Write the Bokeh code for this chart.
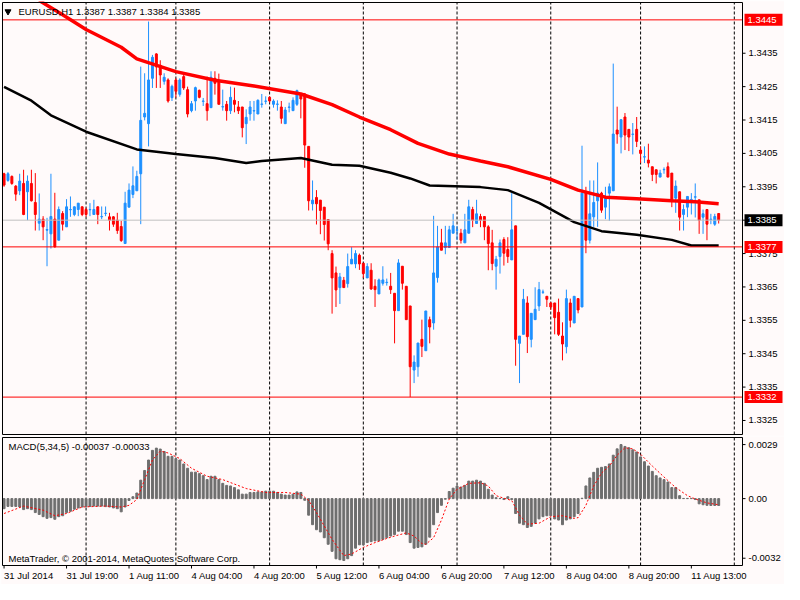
from bokeh.plotting import figure
from bokeh.models import ColumnDataSource, Range1d
from bokeh.core.properties import value
from bokeh.layouts import column
from bokeh.embed import file_html
from bokeh.resources import INLINE

# ---------------- data (EURUSD H1) ----------------
opens = [
1.33989,1.33969,1.33981,1.33952,1.33938,1.33960,1.33935,1.33960,1.33903,1.33841,
1.33853,1.33820,1.33809,1.33853,1.33790,1.33870,1.33830,1.33881,1.33867,1.33882,
1.33890,1.33882,1.33881,1.33867,1.33890,1.33860,1.33870,1.33860,1.33860,1.33850,
1.33831,1.33780,1.33889,1.33927,1.33938,1.33989,1.34159,1.34139,1.34275,1.34348,
1.34314,1.34266,1.34270,1.34217,1.34270,1.34227,1.34280,1.34241,1.34178,1.34207,
1.34239,1.34206,1.34199,1.34187,1.34275,1.34267,1.34189,1.34197,1.34178,1.34209,
1.34189,1.34189,1.34139,1.34168,1.34177,1.34168,1.34197,1.34206,1.34218,1.34197,
1.34197,1.34189,1.34139,1.34188,1.34178,1.34197,1.34228,1.34228,1.34071,1.33899,
1.33918,1.33910,1.33889,1.33852,1.33750,1.33692,1.33648,1.33670,1.33660,1.33719,
1.33719,1.33745,1.33721,1.33677,1.33700,1.33652,1.33629,1.33661,1.33663,1.33652,
1.33631,1.33579,1.33712,1.33652,1.33593,1.33401,1.33411,1.33493,1.33459,1.33552,
1.33542,1.33678,1.33782,1.33768,1.33768,1.33811,1.33820,1.33811,1.33782,1.33811,
1.33882,1.33840,1.33861,1.33861,1.33830,1.33782,1.33712,1.33741,1.33792,1.33762,
1.33731,1.33833,1.33481,1.33508,1.33602,1.33493,1.33552,1.33593,1.33634,1.33622,
1.33602,1.33602,1.33574,1.33503,1.33471,1.33602,1.33542,1.33615,1.33590,1.33935,
1.33790,1.33860,1.33908,1.33931,1.33889,1.33931,1.33938,1.34120,1.34099,1.34159,
1.34122,1.34107,1.34122,1.34060,1.34039,1.34030,1.34010,1.34001,1.33979,1.34001,
1.34010,1.33991,1.33916,1.33935,1.33867,1.33889,1.33911,1.33919,1.33911,1.33859,
1.33882,1.33852,1.33838,1.33870]
highs = [
1.33992,1.33994,1.33984,1.33955,1.33989,1.34001,1.33984,1.34001,1.33991,1.33930,
1.33862,1.33857,1.33989,1.33932,1.33891,1.33877,1.33913,1.33921,1.33891,1.33901,
1.33891,1.33887,1.33901,1.33911,1.33891,1.33891,1.33891,1.33872,1.33862,1.33872,
1.33848,1.33935,1.33960,1.34011,1.33998,1.34310,1.34290,1.34445,1.34345,1.34350,
1.34329,1.34290,1.34275,1.34256,1.34275,1.34275,1.34285,1.34250,1.34207,1.34250,
1.34241,1.34216,1.34280,1.34296,1.34296,1.34289,1.34241,1.34207,1.34250,1.34247,
1.34207,1.34189,1.34182,1.34207,1.34207,1.34212,1.34228,1.34221,1.34221,1.34212,
1.34209,1.34207,1.34189,1.34202,1.34218,1.34241,1.34230,1.34231,1.34071,1.33969,
1.33940,1.33910,1.33889,1.33852,1.33760,1.33711,1.33692,1.33680,1.33750,1.33769,
1.33760,1.33750,1.33721,1.33721,1.33721,1.33673,1.33675,1.33712,1.33675,1.33692,
1.33631,1.33733,1.33712,1.33652,1.33593,1.33445,1.33482,1.33552,1.33578,1.33561,
1.33863,1.33833,1.33824,1.33833,1.33833,1.33869,1.33833,1.33824,1.33869,1.33911,
1.33890,1.33911,1.33869,1.33861,1.33835,1.33821,1.33743,1.33792,1.33799,1.33799,
1.33931,1.33833,1.33503,1.33644,1.33622,1.33571,1.33649,1.33665,1.33642,1.33622,
1.33605,1.33602,1.33615,1.33544,1.33642,1.33615,1.33622,1.33615,1.34073,1.33950,
1.33969,1.33969,1.34023,1.33935,1.33950,1.33960,1.34319,1.34190,1.34151,1.34171,
1.34122,1.34141,1.34159,1.34071,1.34071,1.34079,1.34010,1.34001,1.34001,1.34008,
1.34023,1.33991,1.33969,1.33935,1.33897,1.33921,1.33931,1.33960,1.33911,1.33882,
1.33882,1.33869,1.33869,1.33870]
lows = [
1.33950,1.33965,1.33956,1.33908,1.33925,1.33865,1.33850,1.33906,1.33819,1.33819,
1.33790,1.33712,1.33765,1.33768,1.33790,1.33819,1.33830,1.33860,1.33862,1.33862,
1.33862,1.33860,1.33862,1.33867,1.33838,1.33853,1.33862,1.33819,1.33830,1.33809,
1.33785,1.33780,1.33889,1.33916,1.33938,1.33838,1.34149,1.34071,1.34246,1.34246,
1.34246,1.34256,1.34202,1.34207,1.34217,1.34220,1.34240,1.34158,1.34173,1.34178,
1.34215,1.34192,1.34148,1.34187,1.34226,1.34197,1.34178,1.34148,1.34168,1.34173,
1.34168,1.34098,1.34078,1.34148,1.34148,1.34168,1.34187,1.34197,1.34202,1.34187,
1.34178,1.34139,1.34139,1.34173,1.34178,1.34192,1.34155,1.34007,1.33879,1.33879,
1.33837,1.33808,1.33789,1.33760,1.33570,1.33590,1.33599,1.33648,1.33648,1.33719,
1.33706,1.33701,1.33677,1.33677,1.33641,1.33590,1.33629,1.33654,1.33654,1.33629,
1.33481,1.33579,1.33642,1.33552,1.33320,1.33362,1.33381,1.33440,1.33459,1.33481,
1.33522,1.33663,1.33760,1.33748,1.33768,1.33811,1.33790,1.33780,1.33782,1.33811,
1.33829,1.33840,1.33829,1.33790,1.33700,1.33700,1.33642,1.33690,1.33714,1.33722,
1.33731,1.33414,1.33362,1.33508,1.33452,1.33469,1.33552,1.33578,1.33629,1.33590,
1.33581,1.33508,1.33503,1.33430,1.33451,1.33529,1.33542,1.33571,1.33590,1.33751,
1.33780,1.33830,1.33830,1.33872,1.33853,1.33848,1.33938,1.34079,1.34050,1.34060,
1.34057,1.34047,1.34069,1.34021,1.34021,1.34008,1.33967,1.33960,1.33979,1.33989,
1.33979,1.33889,1.33872,1.33819,1.33819,1.33859,1.33867,1.33858,1.33809,1.33809,
1.33790,1.33838,1.33833,1.33840]
closes = [
1.33955,1.33989,1.33960,1.33928,1.33967,1.33867,1.33967,1.33908,1.33867,1.33853,
1.33830,1.33822,1.33861,1.33770,1.33882,1.33838,1.33890,1.33882,1.33890,1.33901,
1.33867,1.33867,1.33882,1.33882,1.33867,1.33861,1.33871,1.33850,1.33838,1.33819,
1.33789,1.33901,1.33940,1.33953,1.33981,1.34149,1.34170,1.34270,1.34338,1.34309,
1.34285,1.34278,1.34207,1.34251,1.34236,1.34270,1.34246,1.34168,1.34199,1.34247,
1.34218,1.34207,1.34178,1.34278,1.34260,1.34197,1.34190,1.34178,1.34218,1.34197,
1.34178,1.34127,1.34158,1.34189,1.34178,1.34209,1.34198,1.34207,1.34207,1.34207,
1.34198,1.34155,1.34180,1.34189,1.34209,1.34238,1.34213,1.34075,1.33908,1.33910,
1.33899,1.33879,1.33837,1.33779,1.33677,1.33641,1.33680,1.33648,1.33711,1.33733,
1.33750,1.33719,1.33690,1.33711,1.33644,1.33642,1.33671,1.33671,1.33664,1.33642,
1.33579,1.33722,1.33661,1.33552,1.33411,1.33425,1.33482,1.33472,1.33578,1.33530,
1.33692,1.33770,1.33760,1.33782,1.33821,1.33833,1.33821,1.33790,1.33821,1.33890,
1.33850,1.33869,1.33850,1.33830,1.33780,1.33720,1.33733,1.33782,1.33751,1.33741,
1.33821,1.33493,1.33503,1.33613,1.33501,1.33571,1.33583,1.33642,1.33635,1.33613,
1.33590,1.33558,1.33508,1.33479,1.33615,1.33550,1.33622,1.33581,1.33931,1.33790,
1.33869,1.33903,1.33931,1.33880,1.33921,1.33950,1.34108,1.34108,1.34151,1.34105,
1.34099,1.34108,1.34086,1.34050,1.34040,1.34021,1.33987,1.33987,1.33991,1.34002,
1.33979,1.33911,1.33952,1.33859,1.33882,1.33921,1.33912,1.33920,1.33850,1.33869,
1.33838,1.33853,1.33861,1.33850]

# moving averages read at selected bars
ma_red_bar = [9, 15, 21, 30, 34, 44, 54, 64, 76, 84, 91, 99, 106, 114, 122, 129, 140, 147, 154, 162, 171, 177, 183]
ma_red_val = [1.34508, 1.34465, 1.34421, 1.34368, 1.34333, 1.34295, 1.34269, 1.34252, 1.34228, 1.34196,
              1.34159, 1.34121, 1.34080, 1.34048, 1.34027, 1.34010, 1.33972, 1.33940, 1.33919, 1.33914,
              1.33908, 1.33905, 1.33899]
ma_black_bar = [0, 7, 12, 21, 34, 44, 54, 62, 66, 76, 84, 91, 99, 104, 109, 122, 129, 137, 146, 153, 162, 171, 176, 183]
ma_black_val = [1.34249, 1.34208, 1.34164, 1.34115, 1.34062, 1.34048, 1.34036, 1.34021, 1.34027, 1.34036,
                1.34016, 1.34013, 1.33992, 1.33975, 1.33954, 1.33949, 1.33940, 1.33902, 1.33844, 1.33817,
                1.33806, 1.33791, 1.33774, 1.33774]

# MACD(5,34,5)
macd_hist = [
-0.00054,-0.00042,-0.00042,-0.00042,-0.00045,-0.00059,-0.00054,-0.00059,-0.00075,-0.00085,
-0.00097,-0.00106,-0.00102,-0.00111,-0.00097,-0.00092,-0.00075,-0.00068,-0.00057,-0.00050,
-0.00045,-0.00043,-0.00042,-0.00040,-0.00040,-0.00040,-0.00043,-0.00045,-0.00050,-0.00054,
-0.00071,-0.00045,-0.00010,0.00010,0.00030,0.00099,0.00151,0.00207,0.00259,0.00271,
0.00266,0.00253,0.00227,0.00227,0.00215,0.00207,0.00186,0.00163,0.00142,0.00142,
0.00134,0.00123,0.00102,0.00120,0.00120,0.00102,0.00082,0.00071,0.00068,0.00059,
0.00047,0.00024,0.00024,0.00033,0.00033,0.00036,0.00036,0.00040,0.00040,0.00040,
0.00033,0.00024,0.00019,0.00019,0.00024,0.00036,0.00033,-0.00009,-0.00089,-0.00140,
-0.00167,-0.00179,-0.00210,-0.00245,-0.00283,-0.00323,-0.00328,-0.00332,-0.00323,-0.00306,
-0.00266,-0.00248,-0.00248,-0.00236,-0.00231,-0.00227,-0.00227,-0.00219,-0.00210,-0.00201,
-0.00193,-0.00175,-0.00175,-0.00193,-0.00236,-0.00266,-0.00262,-0.00259,-0.00245,-0.00207,
-0.00140,-0.00075,-0.00036,-0.00003,0.00038,0.00056,0.00068,0.00062,0.00071,0.00094,
0.00094,0.00099,0.00094,0.00082,0.00050,0.00019,0.00005,0.00001,-0.00005,0.00010,
-0.00005,-0.00080,-0.00132,-0.00140,-0.00155,-0.00149,-0.00132,-0.00109,-0.00097,-0.00092,
-0.00092,-0.00109,-0.00115,-0.00140,-0.00115,-0.00109,-0.00097,-0.00080,0.00002,0.00068,
0.00111,0.00141,0.00163,0.00168,0.00172,0.00186,0.00233,0.00267,0.00290,0.00280,
0.00273,0.00262,0.00250,0.00224,0.00198,0.00175,0.00146,0.00123,0.00111,0.00102,
0.00089,0.00059,0.00059,0.00016,0.00001,0.00001,0.00001,-0.00005,-0.00028,-0.00033,
-0.00036,-0.00037,-0.00037,-0.00037]
signal_bar = [0, 5, 10, 13, 16, 20, 26, 30, 32, 34, 36, 38, 40, 42, 45, 48, 52, 56, 62, 67, 72, 76, 78, 80,
              84, 87, 89, 92, 95, 98, 100, 103, 105, 107, 108, 110, 112, 114, 116, 119, 122, 124, 126, 128,
              130, 132, 134, 137, 140, 143, 146, 147, 149, 151, 153, 155, 157, 159, 161, 163, 166, 169, 172,
              175, 177, 180, 183]
signal_val = [-0.00080, -0.00040, -0.00062, -0.00092, -0.00080, -0.00045, -0.00040, -0.00045, -0.00036,
              -0.00005, 0.00102, 0.00207, 0.00255, 0.00245, 0.00215, 0.00163, 0.00120, 0.00102, 0.00054,
              0.00033, 0.00033, 0.00024, -0.00010, -0.00075, -0.00219, -0.00306, -0.00297, -0.00262,
              -0.00236, -0.00214, -0.00201, -0.00184, -0.00201, -0.00241, -0.00245, -0.00210, -0.00115,
              -0.00002, 0.00050, 0.00082, 0.00085, 0.00068, 0.00016, 0.00002, -0.00010, -0.00089, -0.00137,
              -0.00132, -0.00097, -0.00092, -0.00106, -0.00102, -0.00036, 0.00068, 0.00137, 0.00175,
              0.00233, 0.00273, 0.00267, 0.00238, 0.00175, 0.00116, 0.00059, 0.00016, -0.00002, -0.00023,
              -0.00033]

# axis texts
time_tick_bar = [0, 16, 32, 48, 64, 80, 96, 112, 128, 144, 160, 176]
time_tick_text = ["31 Jul 2014", "31 Jul 19:00", "1 Aug 11:00", "4 Aug 04:00", "4 Aug 20:00",
                  "5 Aug 12:00", "6 Aug 04:00", "6 Aug 20:00", "7 Aug 12:00", "8 Aug 04:00",
                  "8 Aug 20:00", "11 Aug 13:00"]
price_ticks = [1.3325, 1.3335, 1.3345, 1.3355, 1.3365, 1.3375, 1.3385, 1.3395, 1.3405, 1.3415, 1.3425, 1.3435]
price_tick_text = ["1.3325", "1.3335", "1.3345", "1.3355", "1.3365", "1.3375", "1.3385", "1.3395",
                   "1.3405", "1.3415", "1.3425", "1.3435"]
macd_ticks = [-0.0032, 0.0, 0.0029]
macd_tick_text = ["-0.0032", "0.00", "0.0029"]
red_levels = [1.3445, 1.3377, 1.3332]
red_level_text = ["1.3445", "1.3377", "1.3332"]
bid_level = 1.3385
bid_text = "1.3385"
title_text = "EURUSD,H1  1.3387 1.3387 1.3384 1.3385"
macd_text = "MACD(5,34,5) -0.00037 -0.00033"
copyright_text = "MetaTrader, \u00a9 2001-2014, MetaQuotes Software Corp."
sep_bars = [21, 44, 68, 92, 116, 140, 163, 187]

# ---------------- layout constants ----------------
BG = "#FFFAFA"
BULL = "#1E90FF"
BEAR = "#FF0000"
FONT = value("Liberation Sans")
FS = value("9.5px")

XS, XE = -0.4, 189.1            # chart window in bars
PLOT_W = 740                    # px of the chart window
FRAME_W = 783                   # frame spans chart window + price scale
ppb = PLOT_W / (XE - XS)        # px per bar
x0 = XS - 1 / ppb
xr = Range1d(x0, x0 + FRAME_W / ppb)

Y0, Y1 = 1.33208, 1.34502       # main window price range
MAIN_H = 432
ppv = MAIN_H / (Y1 - Y0)
M0, M1 = -0.00359, 0.00328      # MACD window range
MACD_H = 128
ppm = MACD_H / (M1 - M0)


def dx(px):
    return px / ppb


def text_kw(color="black", align="left", baseline="middle"):
    return dict(text_font=FONT, text_font_size=FS, text_color=color,
                text_align=align, text_baseline=baseline)


n = len(closes)
bars = list(range(n))
colors = [BULL if c >= o else BEAR for o, c in zip(opens, closes)]
src = ColumnDataSource(dict(
    x=bars, h=highs, l=lows, col=colors,
    top=[max(o, c) for o, c in zip(opens, closes)],
    bot=[min(o, c) for o, c in zip(opens, closes)],
))

# ---------------- main window ----------------
main = figure(frame_width=FRAME_W, frame_height=MAIN_H + 2, x_range=xr,
              y_range=Range1d(Y0 - 1 / ppv, Y1 + 1 / ppv),
              output_backend="svg", toolbar_location=None, x_axis_location=None,
              y_axis_location=None, min_border_left=1, min_border_right=0,
              min_border_top=1, min_border_bottom=1,
              background_fill_color=BG, border_fill_color=BG, outline_line_color=None)
main.grid.visible = False

# period separators
main.segment(x0=sep_bars, y0=Y0, x1=sep_bars, y1=Y1, line_color="black", line_width=1, line_dash="3 2")

# candles
main.segment(x0="x", y0="l", x1="x", y1="h", color="col", line_width=1, source=src)
main.vbar(x="x", width=0.5, top="top", bottom="bot", fill_color="col", line_color="col",
          line_width=1, source=src)

# moving averages
main.line(ma_black_bar, ma_black_val, line_color="black", line_width=2.5)
main.line(ma_red_bar, ma_red_val, line_color="#FF0000", line_width=3.5)

# horizontal levels
main.segment(x0=XS, y0=bid_level, x1=XE, y1=bid_level, line_color="#C0C0C0", line_width=1)
main.segment(x0=XS, y0=red_levels, x1=XE, y1=red_levels, line_color="#FF0000", line_width=1)

# window border
main.quad(left=XS, right=XE, bottom=Y0, top=Y1, fill_color=None, line_color="black", line_width=1)

# price scale
main.segment(x0=XE, y0=price_ticks, x1=XE + dx(3), y1=price_ticks, line_color="black", line_width=1)
main.text(x=XE + dx(6), y=price_ticks, text=price_tick_text, **text_kw())
main.rect(x=XE + dx(21), y=red_levels, width=38, height=12, width_units="screen",
          height_units="screen", fill_color="#FF0000", line_color=None)
main.text(x=XE + dx(5), y=red_levels, text=red_level_text, **text_kw("white"))
main.rect(x=XE + dx(21), y=bid_level, width=38, height=12, width_units="screen",
          height_units="screen", fill_color="black", line_color=None)
main.text(x=XE + dx(5), y=[bid_level], text=[bid_text], **text_kw("white"))

# window title
main.scatter(x=XS + dx(5.5), y=Y1 - 9 / ppv, marker="inverted_triangle", size=6,
             fill_color="black", line_color="black")
main.text(x=XS + dx(16), y=Y1 - 3 / ppv, text=[title_text], **text_kw(baseline="top"))

# ---------------- MACD window ----------------
msrc = ColumnDataSource(dict(x=bars, v=macd_hist))
macd = figure(frame_width=FRAME_W, frame_height=MACD_H + 1 + 19, x_range=xr,
              y_range=Range1d(M0 - 19 / ppm, M1 + 1 / ppm),
              output_backend="svg", toolbar_location=None, x_axis_location=None,
              y_axis_location=None, min_border_left=1, min_border_right=0,
              min_border_top=0, min_border_bottom=0,
              background_fill_color=BG, border_fill_color=BG, outline_line_color=None)
macd.grid.visible = False

macd.segment(x0=sep_bars, y0=M0, x1=sep_bars, y1=M1, line_color="black", line_width=1, line_dash="3 2")
macd.vbar(x="x", width=0.5, top="v", bottom=0, fill_color="#6E6E6E", line_color="#6E6E6E",
          line_width=1, source=msrc)
macd.line(signal_bar, signal_val, line_color="#FF0000", line_width=1, line_dash="2 2")
macd.quad(left=XS, right=XE, bottom=M0, top=M1, fill_color=None, line_color="black", line_width=1)

# MACD scale
macd.segment(x0=XE, y0=macd_ticks, x1=XE + dx(3), y1=macd_ticks, line_color="black", line_width=1)
macd.text(x=XE + dx(6), y=macd_ticks, text=macd_tick_text, **text_kw())

# time scale (MetaTrader style: text starts at its tick)
macd.segment(x0=time_tick_bar, y0=M0, x1=time_tick_bar, y1=M0 - 3 / ppm, line_color="black", line_width=1)
macd.text(x=time_tick_bar, y=M0 - 4 / ppm, text=time_tick_text, **text_kw(baseline="top"))

macd.text(x=XS + dx(6), y=M1 - 3 / ppm, text=[macd_text], **text_kw(baseline="top"))
macd.text(x=XS + dx(6), y=M0 + 2 / ppm, text=[copyright_text], **text_kw(baseline="bottom"))

layout = column(main, macd, spacing=0)
open("out.html", "w").write(file_html(layout, INLINE))
